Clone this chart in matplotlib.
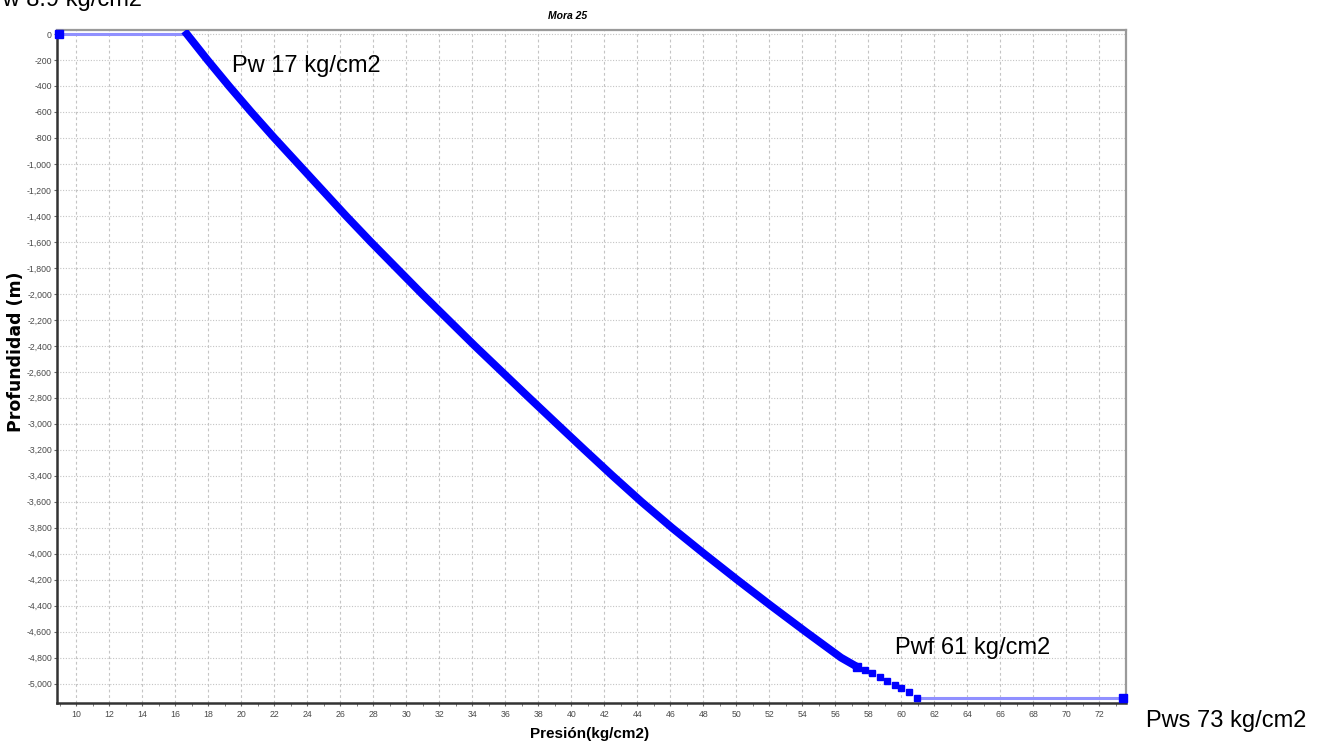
import matplotlib
matplotlib.use('Agg')
import matplotlib.pyplot as plt
from matplotlib.ticker import MultipleLocator, FuncFormatter

# presion (kg/cm2) vs profundidad (m)
pres_top  = [8.95, 16.7]
prof_top  = [0, 0]

pres_curve = [16.7, 17.95, 19.25, 20.6, 22.0, 23.45, 24.9, 26.35, 27.85, 29.4,
              30.95, 32.55, 34.15, 35.8, 37.45, 39.12, 40.8, 42.5, 44.25, 46.1,
              48.05, 50.05, 52.1, 54.2, 56.35, 57.3]
prof_curve = [0, -200, -400, -600, -800, -1000, -1200, -1400, -1600, -1800,
              -2000, -2200, -2400, -2600, -2800, -3000, -3200, -3400, -3600, -3800,
              -4000, -4200, -4400, -4600, -4800, -4869]

pres_fondo = [57.8, 58.25, 58.7, 59.15, 59.6, 60.0, 60.45, 60.95]
prof_fondo = [-4894, -4921, -4951, -4977, -5008, -5033, -5067, -5110]

pres_bottom = [60.95, 73.45]
prof_bottom = [-5110, -5110]

etiquetas = ['Pw 8.9 kg/cm2', 'Pw 17 kg/cm2', 'Pwf 61 kg/cm2', 'Pws 73 kg/cm2']

BLUE  = '#0000ff'
LIGHT = '#9090ff'
SANS  = ['Liberation Sans', 'DejaVu Sans']

fig = plt.figure(figsize=(13.22, 7.5), dpi=100)
W, H = 1322, 750
ax = fig.add_axes([57 / W, (H - 703) / H, (1126 - 57) / W, (703 - 30) / H])

ax.plot(pres_top, prof_top, color=LIGHT, lw=2.2, zorder=3)
ax.plot(pres_bottom, prof_bottom, color=LIGHT, lw=2.2, zorder=3)
ax.plot(pres_top[:1], prof_top[:1], 's', color=BLUE, ms=5.5, zorder=4, clip_on=False)
ax.plot(pres_bottom[-1:], prof_bottom[-1:], 's', color=BLUE, ms=5.5, zorder=4, clip_on=False)

ax.plot(pres_curve, prof_curve, color=BLUE, lw=5.6, solid_capstyle='projecting',
        solid_joinstyle='round', zorder=4)
ax.plot(pres_curve[-1:], prof_curve[-1:], 's', color=BLUE, ms=5.5, zorder=4)
ax.plot(pres_fondo, prof_fondo, 's', color=BLUE, ms=5, zorder=4, clip_on=False)

ax.set_xlim(8.83, 73.62)
ax.set_ylim(-5149, 31)

ax.xaxis.set_major_locator(MultipleLocator(2))
ax.xaxis.set_minor_locator(MultipleLocator(1))
ax.yaxis.set_major_locator(MultipleLocator(200))
ax.yaxis.set_major_formatter(FuncFormatter(lambda v, p: f'{int(round(v)):,}'))
ax.set_xticks([v for v in range(10, 73, 2)])

ax.tick_params(axis='both', which='major', labelsize=6.3, labelcolor='#4a4a4a',
               color='#666666', length=2.5, width=0.8, pad=1.2)
ax.tick_params(axis='x', which='minor', color='#666666', length=2, width=0.6)
ax.tick_params(axis='x', which='major', pad=2.5)
for lab in ax.get_xticklabels() + ax.get_yticklabels():
    lab.set_family(SANS)

ax.grid(True, axis='x', which='major', color='#c4c4c4', lw=0.8, ls=(0, (2.5, 2.5)))
ax.grid(True, axis='y', which='major', color='#c4c4c4', lw=0.8, ls=(0, (1, 1.5)))
ax.set_axisbelow(True)

for s in ['left', 'bottom']:
    ax.spines[s].set_color('#333333')
    ax.spines[s].set_linewidth(1.8)
for s in ['top', 'right']:
    ax.spines[s].set_color('#9a9a9a')
    ax.spines[s].set_linewidth(1.6)

fig.text(568 / W, 1 - 16 / H, 'Mora 25', ha='center', va='center', fontsize=7.5,
         fontweight='bold', fontstyle='italic', family=SANS)
fig.text(590 / W, 1 - 734 / H, 'Presión(kg/cm2)', ha='center', va='center', fontsize=11,
         fontweight='bold', family=SANS)
fig.text(16 / W, 1 - 352 / H, 'Profundidad (m)', ha='center', va='center', fontsize=12.5,
         fontweight='bold', rotation=90, family=['DejaVu Sans'])

fig.text(-13 / W, 1 - 6 / H, etiquetas[0], ha='left', va='baseline', fontsize=17, family=SANS)
fig.text(232 / W, 1 - 72 / H, etiquetas[1], ha='left', va='baseline', fontsize=17, family=SANS)
fig.text(895 / W, 1 - 654 / H, etiquetas[2], ha='left', va='baseline', fontsize=17, family=SANS)
fig.text(1146 / W, 1 - 727 / H, etiquetas[3], ha='left', va='baseline', fontsize=17, family=SANS)

fig.savefig('out.png', dpi=100)
